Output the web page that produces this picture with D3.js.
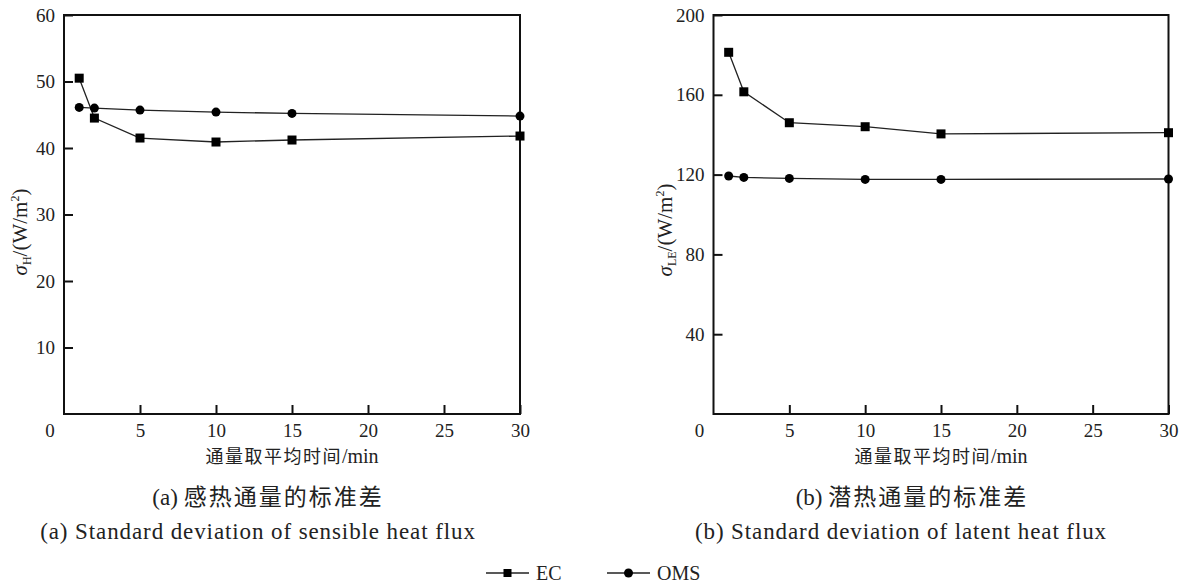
<!DOCTYPE html>
<html>
<head>
<meta charset="utf-8">
<script src="https://cdn.jsdelivr.net/npm/d3@7"></script>
<style>
  body { margin: 0; background: #fff; }
  svg text { fill: #222; }
</style>
</head>
<body>
<div id="chart"></div>
<script>
// data
const avgTimes = [1, 2, 5, 10, 15, 30];
const xTicks = [5, 10, 15, 20, 25, 30];

const sensibleEC = [50.5, 44.5, 41.5, 40.9, 41.2, 41.8];
const sensibleOMS = [46.1, 46.0, 45.7, 45.4, 45.2, 44.8];
const sensibleTicks = [10, 20, 30, 40, 50, 60];

const latentEC = [181.3, 161.5, 146.0, 144.0, 140.4, 141.0];
const latentOMS = [119.3, 118.6, 118.1, 117.6, 117.6, 117.8];
const latentTicks = [40, 80, 120, 160, 200];

const seriesNames = ["EC", "OMS"];

const serif = "'Liberation Serif', 'DejaVu Serif', serif";
const cjk = "'Noto Sans CJK SC', sans-serif";

const svg = d3.select("#chart")
  .append("svg")
    .attr("width", 1184)
    .attr("height", 585);

// one panel
function panel(opt) {
  const g = svg.append("g")
    .attr("transform", `translate(${opt.left},${opt.top})`);
  const w = opt.width, h = opt.height;

  const x = d3.scaleLinear().domain([0, 30]).range([0, w]);
  const y = d3.scaleLinear().domain([0, opt.yMax]).range([h, 0]);

  // x axis, ticks pointing in
  const xa = g.append("g")
    .attr("transform", `translate(0,${h})`)
    .call(d3.axisBottom(x).tickValues(xTicks).tickSizeInner(-9).tickSizeOuter(0).tickPadding(9.5));
  xa.selectAll("text").attr("font-family", serif).attr("font-size", 19);

  const ya = g.append("g")
    .call(d3.axisLeft(y).tickValues(opt.yTicks).tickSizeInner(-9).tickSizeOuter(0).tickPadding(9));
  ya.selectAll("text").attr("font-family", serif).attr("font-size", 19);

  g.selectAll(".domain").remove();
  g.selectAll(".tick line").attr("stroke", "#111").attr("stroke-width", 2);

  // frame
  g.append("rect")
    .attr("width", w).attr("height", h)
    .attr("fill", "none")
    .attr("stroke", "#111")
    .attr("stroke-width", 2);

  // shared origin label
  g.append("text")
    .attr("x", -14).attr("y", h + 23)
    .attr("text-anchor", "middle")
    .attr("font-family", serif).attr("font-size", 19)
    .text("0");

  const line = d3.line()
    .x((d, i) => x(avgTimes[i]))
    .y(d => y(d));

  [opt.ec, opt.oms].forEach((vals, k) => {
    g.append("path")
      .datum(vals)
      .attr("d", line)
      .attr("fill", "none")
      .attr("stroke", "#222")
      .attr("stroke-width", 1.3);
    if (k === 0) {
      g.selectAll(null).data(vals).join("rect")
        .attr("x", (d, i) => x(avgTimes[i]) - 4.5)
        .attr("y", d => y(d) - 4.5)
        .attr("width", 9).attr("height", 9)
        .attr("fill", "#000");
    } else {
      g.selectAll(null).data(vals).join("circle")
        .attr("cx", (d, i) => x(avgTimes[i]))
        .attr("cy", d => y(d))
        .attr("r", 4.5)
        .attr("fill", "#000");
    }
  });

  // x title
  const xt = g.append("text")
    .attr("x", w / 2).attr("y", h + 49)
    .attr("text-anchor", "middle");
  xt.append("tspan").attr("font-family", cjk).attr("font-size", 18)
    .attr("letter-spacing", 1.5).text("通量取平均时间");
  xt.append("tspan").attr("font-family", serif).attr("font-size", 20).text("/min");

  // y title
  const yt = g.append("text")
    .attr("transform", `translate(${opt.yLabelX},${opt.yLabelY}) rotate(-90)`)
    .attr("text-anchor", "middle")
    .attr("font-family", serif)
    .attr("font-size", 21);
  yt.append("tspan").attr("font-style", "italic").text("σ");
  yt.append("tspan").attr("font-size", 12).attr("dy", 4).text(opt.sub);
  yt.append("tspan").attr("dy", -4).text("/(W/m");
  yt.append("tspan").attr("font-size", 12).attr("dy", -8).text("2");
  yt.append("tspan").attr("dy", 8).text(")");

  // captions
  const c1 = svg.append("text")
    .attr("x", opt.capX).attr("y", 505)
    .attr("text-anchor", "middle");
  c1.append("tspan").attr("font-family", serif).attr("font-size", 23).text(opt.capTag + " ");
  c1.append("tspan").attr("font-family", cjk).attr("font-size", 23)
    .attr("letter-spacing", 2).text(opt.capCn);

  svg.append("text")
    .attr("x", opt.capX2).attr("y", 539)
    .attr("text-anchor", "middle")
    .attr("font-family", serif)
    .attr("font-size", 23)
    .attr("letter-spacing", 0.9)
    .text(opt.capTag + " " + opt.capEn);
}

panel({
  left: 64, top: 15, width: 456, height: 399,
  yMax: 60, yTicks: sensibleTicks,
  ec: sensibleEC, oms: sensibleOMS,
  sub: "H", yLabelX: -37, yLabelY: 217,
  capX: 268, capX2: 258, capTag: "(a)",
  capCn: "感热通量的标准差",
  capEn: "Standard deviation of sensible heat flux"
});

panel({
  left: 713.5, top: 15, width: 455, height: 399,
  yMax: 200, yTicks: latentTicks,
  ec: latentEC, oms: latentOMS,
  sub: "LE", yLabelX: -42, yLabelY: 215,
  capX: 912, capX2: 901, capTag: "(b)",
  capCn: "潜热通量的标准差",
  capEn: "Standard deviation of latent heat flux"
});

// legend
const legend = svg.append("g").attr("transform", "translate(486,573)");
seriesNames.forEach((name, i) => {
  const lg = legend.append("g").attr("transform", `translate(${i * 121},0)`);
  lg.append("line")
    .attr("x1", 0).attr("x2", 43).attr("y1", 0).attr("y2", 0)
    .attr("stroke", "#222").attr("stroke-width", 1.5);
  if (i === 0) {
    lg.append("rect").attr("x", 17.5).attr("y", -4).attr("width", 8).attr("height", 8).attr("fill", "#000");
  } else {
    lg.append("circle").attr("cx", 21.5).attr("cy", 0).attr("r", 4.5).attr("fill", "#000");
  }
  lg.append("text")
    .attr("x", 50).attr("y", 7)
    .attr("font-family", serif).attr("font-size", 20)
    .text(name);
});
</script>
</body>
</html>
